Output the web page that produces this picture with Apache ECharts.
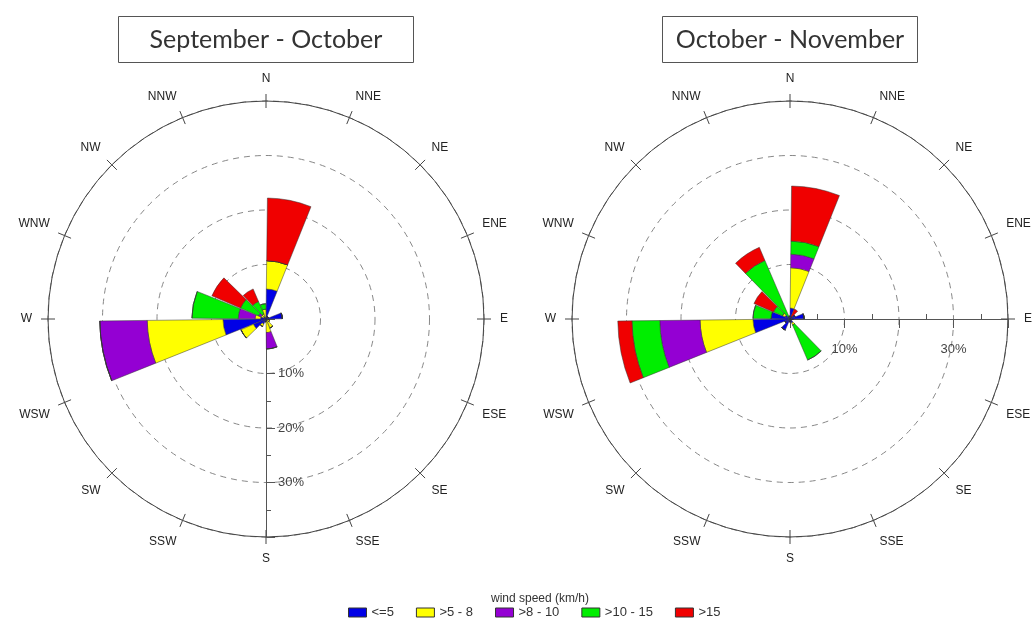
<!DOCTYPE html>
<html>
<head>
<meta charset="utf-8">
<script src="https://cdn.jsdelivr.net/npm/echarts@6.0.0/dist/echarts.min.js"></script>
<style>
  html, body { margin: 0; padding: 0; background: #fff; }
  #chart { width: 1035px; height: 628px; }
</style>
</head>
<body>
<div id="chart"></div>
<script>
// 16 compass sectors, sector k covers [22.5k, 22.5(k+1)] degrees clockwise from N
const directions = ['N', 'NNE', 'NE', 'ENE', 'E', 'ESE', 'SE', 'SSE', 'S', 'SSW', 'SW', 'WSW', 'W', 'WNW', 'NW', 'NNW'];
const speedClasses = ['<=5', '>5 - 8', '>8 - 10', '>10 - 15', '>15'];
const radialLabelsLeft = [10, 20, 30];
const radialLabelsRight = [10, 30];

// September - October, frequency in %
const sepOctLe5    = [5.5, 0.5, 0.5, 3.0, 0.5, 0.3, 0.3, 0.5, 0.5, 1.0, 2.5, 7.9, 1.0, 0.5, 0.5, 0.3];
const sepOct5to8   = [5.2, 0, 0, 0, 0, 0.4, 1.5, 2.0, 0, 0.5, 2.5, 13.9, 1.0, 0.5, 0.5, 1.5];
const sepOct8to10  = [0, 0, 0, 0, 0, 0, 0, 3.0, 0, 0, 0, 8.7, 3.1, 0.5, 0, 0];
const sepOct10to15 = [0, 0, 0, 0, 0, 0, 0, 0, 0, 0, 0, 0, 8.5, 3.6, 2.5, 1.0];
const sepOctGt15   = [11.5, 0, 0, 0, 0, 0, 0, 0, 0, 0, 0, 0, 0, 5.7, 2.5, 0];

// October - November, frequency in %
const octNovLe5    = [2.0, 0.5, 1.0, 2.6, 0.5, 0.3, 0.8, 0.5, 0.5, 2.2, 1.0, 6.8, 3.5, 1.0, 0.5, 0.5];
const octNov5to8   = [7.4, 0, 0, 0, 0, 0, 0.4, 0, 0, 0, 0, 9.7, 0, 0.5, 0, 0];
const octNov8to10  = [2.5, 0, 0, 0, 0, 0, 0, 0, 0, 0, 0, 7.4, 0, 0, 0, 0];
const octNov10to15 = [2.4, 0, 0, 0, 0, 0, 7.0, 0, 0, 0, 0, 5.1, 3.3, 1.8, 11.2, 0];
const octNovGt15   = [10.1, 1.5, 0, 0, 0, 0, 0, 0, 0, 0, 0, 2.6, 0, 3.9, 2.6, 0];

const classColors = ['#0000e6', '#ffff00', '#9400d3', '#00ee00', '#f00000'];
const LABEL_FONT = '"Liberation Sans", Arial, sans-serif';

const roses = [
    {
        title: 'September - October', center: [266, 319], axisAngle: -90,
        labelled: radialLabelsLeft, stack: 'sepOct', titlePad: [11, 31],
        data: [sepOctLe5, sepOct5to8, sepOct8to10, sepOct10to15, sepOctGt15]
    },
    {
        title: 'October - November', center: [790, 319], axisAngle: 0,
        labelled: radialLabelsRight, stack: 'octNov', titlePad: [11, 14],
        data: [octNovLe5, octNov5to8, octNov8to10, octNov10to15, octNovGt15]
    }
];

const polar = [], angleAxis = [], radiusAxis = [], series = [], title = [];

roses.forEach((rose, i) => {
    const p = i * 3;
    for (let k = 0; k < 3; k++) polar.push({ center: rose.center, radius: 218 });

    // bars
    angleAxis.push({
        polarIndex: p, type: 'category', data: directions, startAngle: 90, clockwise: true,
        boundaryGap: true, show: false
    });
    radiusAxis.push({ polarIndex: p, type: 'value', min: 0, max: 40, show: false });

    // outer circle, compass labels, outward ticks
    angleAxis.push({
        polarIndex: p + 1, type: 'value', min: 0, max: 360, interval: 22.5, startAngle: 90, clockwise: true,
        axisLine: { lineStyle: { color: '#444', width: 1 } },
        axisTick: { length: 7, lineStyle: { color: '#444' } },
        axisLabel: {
            margin: 16, color: '#222', fontSize: 12, fontFamily: LABEL_FONT,
            formatter: v => directions[Math.round(v / 22.5) % 16]
        },
        splitLine: { show: false }
    });
    radiusAxis.push({ polarIndex: p + 1, type: 'value', min: 0, max: 40, show: false });

    // radial percent axis, dashed rings, inward ticks
    const right = rose.axisAngle === 0;
    angleAxis.push({
        polarIndex: p + 2, type: 'value', min: 0, max: 360, interval: 22.5,
        startAngle: rose.axisAngle, clockwise: true,
        axisLine: { show: false },
        axisTick: { inside: true, length: 7, lineStyle: { color: '#444' } },
        axisLabel: { show: false },
        splitLine: { show: false }
    });
    radiusAxis.push({
        polarIndex: p + 2, type: 'value', min: 0, max: 40, interval: 10,
        axisLine: { lineStyle: { color: '#555', width: 1 } },
        axisTick: { length: right ? -9 : 9, lineStyle: { color: '#555' } },
        minorTick: { show: true, splitNumber: 2, length: 5, lineStyle: { color: '#555' } },
        axisLabel: {
            margin: right ? -24 : 12, color: '#444', fontSize: 13, fontFamily: LABEL_FONT,
            verticalAlign: right ? 'top' : 'middle',
            formatter: v => rose.labelled.includes(v) ? v + '%' : ''
        },
        splitLine: { show: true, lineStyle: { color: '#888', width: 1, type: [6, 5] } }
    });

    rose.data.forEach((values, c) => {
        series.push({
            type: 'bar', name: speedClasses[c], coordinateSystem: 'polar', polarIndex: p,
            stack: rose.stack, data: values, barCategoryGap: '6%',
            itemStyle: { color: classColors[c], borderColor: '#333', borderWidth: 0.5 }
        });
    });

    // ECharts puts the box's left edge at left - textWidth/2, so shift by the padding
    title.push({
        text: rose.title, left: rose.center[0] - rose.titlePad[1], top: 16, textAlign: 'center',
        borderColor: '#555', borderWidth: 1, padding: rose.titlePad,
        textStyle: { fontFamily: 'Lato, sans-serif', fontWeight: 'normal', fontSize: 25, color: '#333' }
    });
});

title.push({
    text: 'wind speed (km/h)', left: 540, top: 593, textAlign: 'center', padding: 0,
    textStyle: { fontFamily: LABEL_FONT, fontWeight: 'normal', fontSize: 12, color: '#333' }
});

const chart = echarts.init(document.getElementById('chart'));
chart.setOption({
    animation: false,
    backgroundColor: '#fff',
    title,
    polar,
    angleAxis,
    radiusAxis,
    legend: {
        data: speedClasses, left: 348, top: 606, icon: 'rect',
        itemWidth: 18, itemHeight: 9, itemGap: 22, padding: 0,
        itemStyle: { borderColor: '#333', borderWidth: 1 },
        textStyle: { fontFamily: LABEL_FONT, fontSize: 13, color: '#333' }
    },
    series
});
</script>
</body>
</html>
